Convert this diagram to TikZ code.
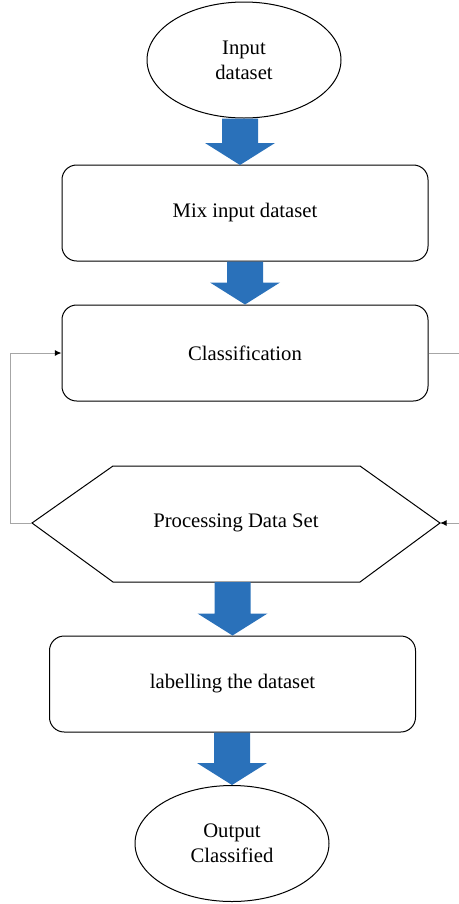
\documentclass[tikz,border=0pt]{standalone}
\usepackage{fontspec}
\setmainfont{Liberation Serif}
\usepackage{xcolor}
\usetikzlibrary{shapes.geometric,calc,arrows.meta}
\definecolor{arrowblue}{RGB}{42,113,186}

% down block arrow from #1 to #2 (x taken from #2)
\newcommand{\blockdown}[2]{%
  \fill[blockarrow] let \p1=(#1), \p2=(#2) in
    (\x2-13.5pt,\y1) -- (\x2+13.5pt,\y1) -- (\x2+13.5pt,\y2+16.5pt)
    -- (\x2+26.25pt,\y2+16.5pt) -- (\x2,\y2) -- (\x2-26.25pt,\y2+16.5pt)
    -- (\x2-13.5pt,\y2+16.5pt) -- cycle;}

\begin{document}
\begin{tikzpicture}[x=0.75pt,y=-0.75pt,
    every node/.style={font=\fontsize{15.5}{19}\selectfont, align=center},
    outline/.style={draw=black, line width=0.75pt},
    terminal/.style={outline, ellipse, minimum width=145.5pt, minimum height=87pt, inner sep=0pt},
    procbox/.style={outline, rounded corners=11pt, minimum width=274.5pt, minimum height=72pt},
    blockarrow/.style={fill=arrowblue},
    loopline/.style={draw=gray!70, line width=0.75pt}]
    \useasboundingbox (0,0) rectangle (459,904);

    \node[terminal] (input) at (244,60) {Input\\dataset};
    \node[procbox] (mix) at (245,213) {Mix input dataset};
    \node[procbox] (cls) at (245,353) {Classification};

    % hexagon
    \coordinate (hexL) at (32,523);
    \coordinate (hexR) at (440,523);
    \coordinate (hexB) at (236,582);
    \draw[outline] (hexL) -- (113,466) -- (360,466) -- (hexR)
        -- (360,582) -- (113,582) -- cycle;
    \node (proc) at (236,523) {Processing Data Set};

    \node[procbox] (label) at (232.5,684) {labelling the dataset};
    \node[terminal] (output) at (232,843.5) {Output\\Classified};

    \coordinate (arrA) at (240,165);
    \blockdown{input.south}{arrA}
    \blockdown{mix.south}{cls.north}
    \blockdown{hexB}{label.north}
    \blockdown{label.south}{output.north}

    % feedback lines
    \coordinate (rstubA) at (459,353);
    \coordinate (rstubB) at (459,523);
    \draw[loopline] (cls.east) -- (rstubA);
    \draw[loopline, -{Latex[black,length=5pt,width=4.5pt]}] (rstubB) -- (hexR);
    \draw[loopline, -{Latex[black,length=5pt,width=4.5pt]}] (hexL) -- (10,523) |- (cls.west);
\end{tikzpicture}
\end{document}
